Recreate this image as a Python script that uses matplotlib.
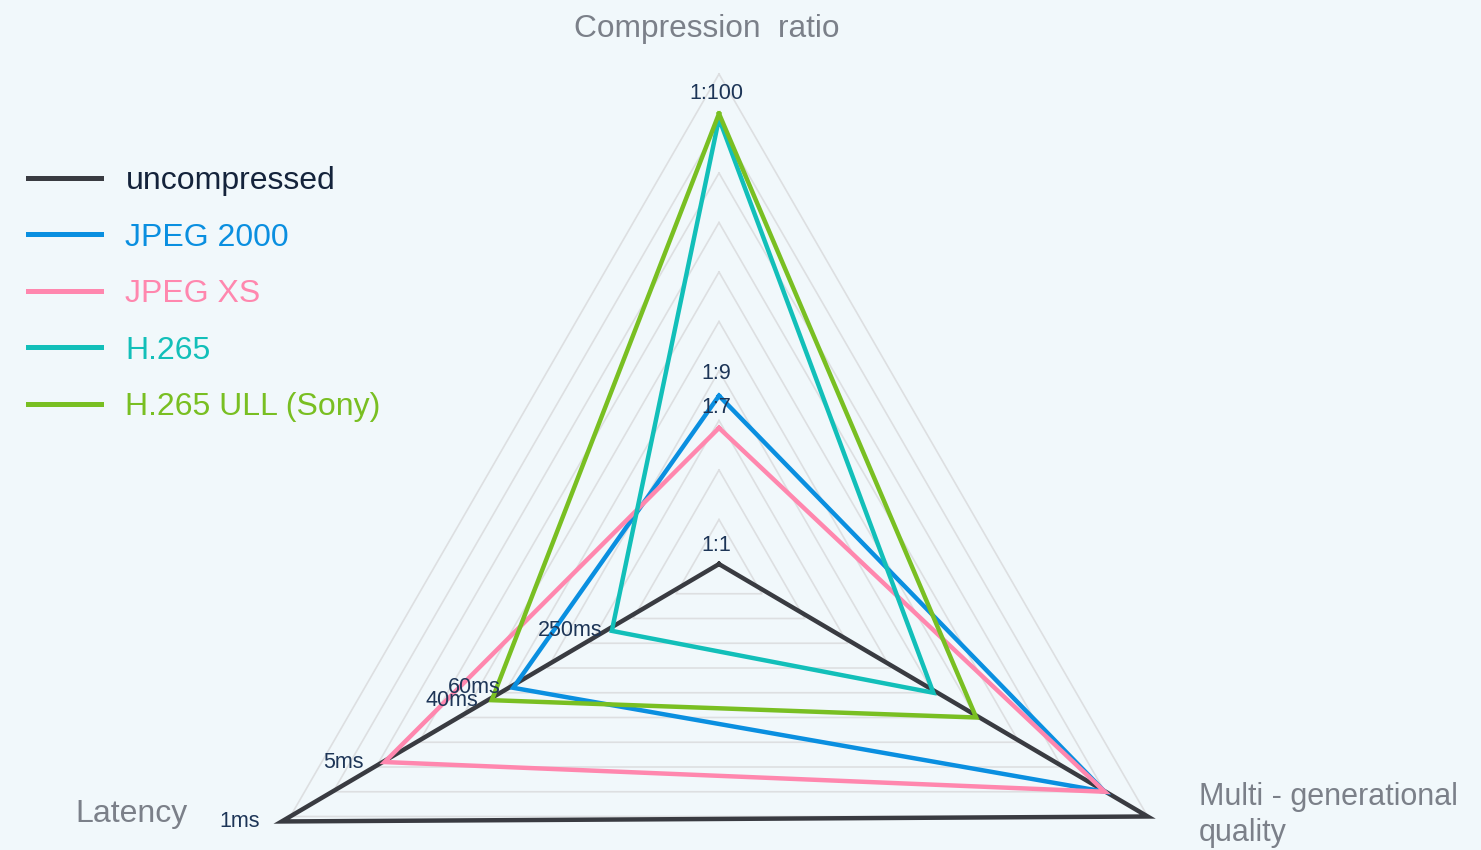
import numpy as np
import matplotlib
matplotlib.use("Agg")
import matplotlib.pyplot as plt

plt.rcParams["font.family"] = ["Liberation Sans", "DejaVu Sans"]

# data (radial score 0..10 on each axis)
axis_titles = ["Compression  ratio", "Multi - generational\nquality", "Latency"]
series = ["uncompressed", "JPEG 2000", "JPEG XS", "H.265", "H.265 ULL (Sony)"]
compression = [0.1, 3.5, 2.85, 9.1, 9.2]
quality = [10.0, 9.0, 9.0, 5.0, 6.0]
latency = [10.2, 4.8, 7.8, 2.5, 5.3]
compression_text = ["1:1", "1:9", "1:7", "1:100", "1:100"]
latency_text = ["1ms", "60ms", "5ms", "250ms", "40ms"]

colors = ["#393b41", "#0a8fe0", "#ff87ae", "#12bfb9", "#79bf22"]
text_colors = ["#14233b", "#0a8fe0", "#ff87ae", "#12bfb9", "#79bf22"]
bg = "#f1f8fb"
gridc = "#dddfe1"
label_c = "#1d3557"
title_c = "#7b8089"

W, H = 1481, 850
def px(x, y):
    return x / W, 1 - y / H

fig = plt.figure(figsize=(W / 100, H / 100), dpi=100, facecolor=bg)

# polar axes placed so centre / radius match the reference
cx, cy, R = 719, 569, 495
ax = fig.add_axes([(cx - R) / W, (H - cy - R) / H, 2 * R / W, 2 * R / H],
                  projection="polar")
ax.set_theta_offset(np.pi / 2)
ax.set_theta_direction(-1)
ax.set_ylim(0, 10)
ax.grid(False)
ax.spines["polar"].set_visible(False)
ax.set_xticks([])
ax.set_yticks([])
ax.patch.set_visible(False)

theta = np.deg2rad([0, 120, 240, 0])

# triangular grid
for r in range(1, 11):
    ax.plot(theta, [r] * 4, color=gridc, lw=1.2, zorder=1, clip_on=False)

lines = []
for i, name in enumerate(series):
    vals = [compression[i], quality[i], latency[i], compression[i]]
    ln, = ax.plot(theta, vals, color=colors[i], lw=3.2, label=name,
                  zorder=3 + i, clip_on=False, solid_joinstyle="miter")
    lines.append(ln)

# value labels
lat_dx = {"1ms": -22, "5ms": -21, "40ms": -14, "60ms": -13, "250ms": -9}
comp_dy = {"1:100": 25, "1:9": 22, "1:7": 20, "1:1": 19}
done = set()
for i in range(len(series)):
    t = compression_text[i]
    if t not in done:
        done.add(t)
        ax.annotate(t, xy=(theta[0], compression[i]), xytext=(-3, comp_dy.get(t, 21)),
                    textcoords="offset pixels", ha="center", va="center",
                    fontsize=15.5, color=label_c, annotation_clip=False, zorder=10)
    t = latency_text[i]
    if t not in done:
        done.add(t)
        ax.annotate(t, xy=(theta[2], latency[i]), xytext=(lat_dx.get(t, -10), 0),
                    textcoords="offset pixels", ha="right", va="center",
                    fontsize=15.5, color=label_c, annotation_clip=False, zorder=10)

# axis titles
fig.text(*px(707, 29), axis_titles[0], ha="center", va="center",
         fontsize=22.8, color=title_c)
fig.text(*px(1199, 815), axis_titles[1], ha="left", va="center",
         fontsize=22, color=title_c, linespacing=1.26)
fig.text(*px(131, 814), axis_titles[2], ha="center", va="center",
         fontsize=23, color=title_c)

leg = fig.legend(handles=lines, loc="upper left", bbox_to_anchor=px(28, 166),
                 frameon=False, fontsize=23, handlelength=2.3, handletextpad=0.75,
                 labelspacing=0.83, borderpad=0, borderaxespad=0)
for txt, c in zip(leg.get_texts(), text_colors):
    txt.set_color(c)
for h in leg.legend_handles:
    h.set_linewidth(3.6)

fig.savefig("out.png", dpi=100, facecolor=bg)
